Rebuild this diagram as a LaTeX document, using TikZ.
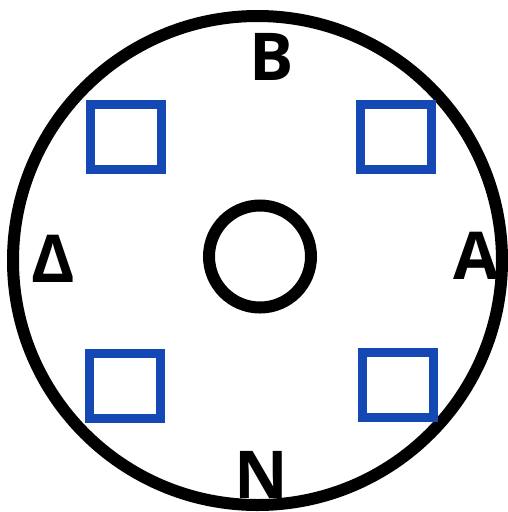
\documentclass[tikz,border=0pt]{standalone}
\usepackage{fontspec}
\setmainfont{Open Sans}
\definecolor{sqblue}{RGB}{20,72,180}
\begin{document}
\begin{tikzpicture}[x=1pt,y=-1pt,
  ring/.style={circle,draw=black,line width=12pt,inner sep=0pt},
  sq/.style={rectangle,draw=sqblue,line width=9pt,minimum width=71pt,minimum height=65pt,inner sep=0pt},
  lbl/.style={inner sep=0pt,anchor=base,font=\fontsize{66}{66}\selectfont\bfseries}]
\useasboundingbox (0,0) rectangle (508,512);
\node[ring,minimum size=489pt] (outer) at (257.5,260.5) {};
\node[ring,minimum size=102pt] (inner) at (260,256.5) {};
\node[sq] (tl) at (126,136.5) {};
\node[sq] (tr) at (395.5,136.5) {};
\node[sq] (bl) at (124.5,386) {};
\node[sq] (br) at (398,384.5) {};
\node[lbl] (b) at (271.5,80) {B};
\node[lbl] (d) at (53,282) {Δ};
\node[lbl] (a) at (476.5,279) {A};
\node[lbl] (n) at (261,498) {N};
\end{tikzpicture}
\end{document}
